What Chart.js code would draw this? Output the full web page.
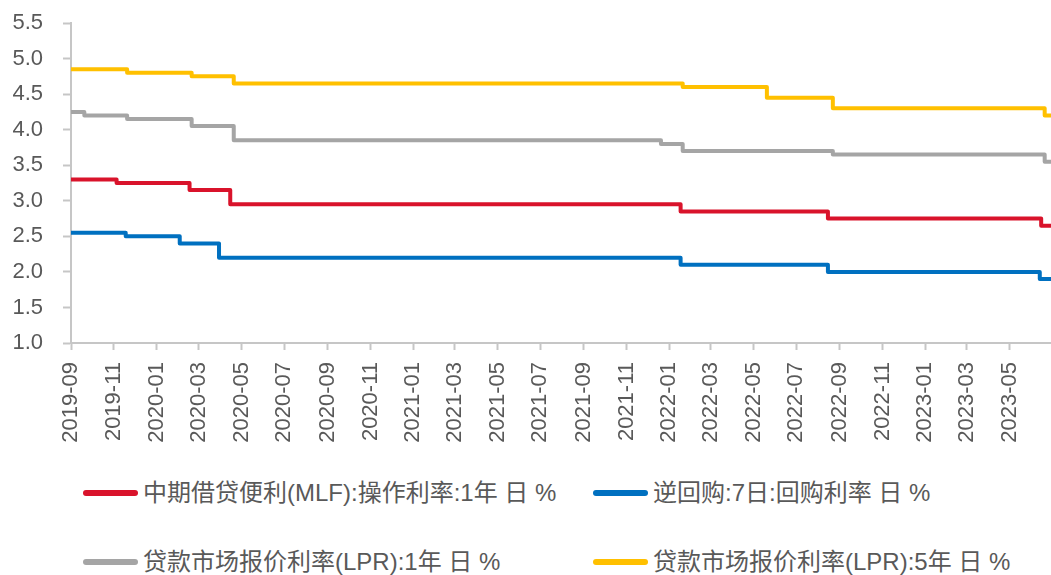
<!DOCTYPE html>
<html>
<head>
<meta charset="utf-8">
<script src="https://cdn.jsdelivr.net/npm/chart.js@4.4.1/dist/chart.umd.min.js"></script>
<style>
  html, body { margin: 0; padding: 0; background: #ffffff; }
  body { width: 1051px; height: 575px; position: relative; overflow: hidden;
         font-family: "Liberation Sans", "Noto Sans CJK SC", sans-serif; }
  #wrap { position: absolute; left: 0; top: 0; width: 1051px; height: 460px; }
  .leg { position: absolute; display: flex; align-items: center; white-space: nowrap;
         font-size: 24px; color: #595959; line-height: 24px; }
  .leg .sw { width: 55px; height: 6px; border-radius: 3px; margin-right: 5px; }
</style>
</head>
<body>
<div id="wrap"><canvas id="c"></canvas></div>
<div id="legend"></div>
<script>
// ---- data ----
const seriesNames = [
  '中期借贷便利(MLF):操作利率:1年 日 %',
  '逆回购:7日:回购利率 日 %',
  '贷款市场报价利率(LPR):1年 日 %',
  '贷款市场报价利率(LPR):5年 日 %'
];
const seriesColors = ['#D9132B', '#0070C0', '#A5A5A5', '#FFC000'];

const mlfDates   = ['2019-09-01','2019-11-05','2020-02-17','2020-04-15','2022-01-17','2022-08-15','2023-06-15','2023-06-29'];
const mlfValues  = [3.30, 3.25, 3.15, 2.95, 2.85, 2.75, 2.65, 2.65];

const repoDates  = ['2019-09-01','2019-11-18','2020-02-03','2020-03-30','2022-01-17','2022-08-15','2023-06-13','2023-06-29'];
const repoValues = [2.55, 2.50, 2.40, 2.20, 2.10, 2.00, 1.90, 1.90];

const lpr1Dates  = ['2019-09-01','2019-09-20','2019-11-20','2020-02-20','2020-04-20','2021-12-20','2022-01-20','2022-08-22','2023-06-20','2023-06-29'];
const lpr1Values = [4.25, 4.20, 4.15, 4.05, 3.85, 3.80, 3.70, 3.65, 3.55, 3.55];

const lpr5Dates  = ['2019-09-01','2019-11-20','2020-02-20','2020-04-20','2022-01-20','2022-05-20','2022-08-22','2023-06-20','2023-06-29'];
const lpr5Values = [4.85, 4.80, 4.75, 4.65, 4.60, 4.45, 4.30, 4.20, 4.20];

const tickLabels = ['2019-09','2019-11','2020-01','2020-03','2020-05','2020-07','2020-09','2020-11',
  '2021-01','2021-03','2021-05','2021-07','2021-09','2021-11','2022-01','2022-03','2022-05','2022-07',
  '2022-09','2022-11','2023-01','2023-03','2023-05'];
const axisStart = '2019-09-01';
const axisEnd = '2023-06-29';
const yTicks = { min: 1.0, max: 5.5, step: 0.5 };

// ---- helpers ----
function toDay(s) {
  const p = s.split('-').map(Number);
  const a = axisStart.split('-').map(Number);
  return (Date.UTC(p[0], p[1] - 1, p[2] || 1) - Date.UTC(a[0], a[1] - 1, a[2])) / 86400000;
}
function pts(dates, values) { return dates.map((d, i) => ({ x: toDay(d), y: values[i] })); }

const allDates = [mlfDates, repoDates, lpr1Dates, lpr5Dates];
const allValues = [mlfValues, repoValues, lpr1Values, lpr5Values];
const tickValues = tickLabels.map(t => toDay(t + '-01'));
const labelByValue = {};
tickValues.forEach((v, i) => { labelByValue[v] = tickLabels[i]; });

const datasets = seriesNames.map((n, i) => ({
  label: n,
  data: pts(allDates[i], allValues[i]),
  borderColor: seriesColors[i],
  backgroundColor: seriesColors[i],
  borderWidth: 4,
  pointRadius: 0,
  pointHoverRadius: 0,
  stepped: 'before',
  fill: false,
  borderJoinStyle: 'round'
}));

const font = { family: '"Liberation Sans", Arial, sans-serif', size: 22 };
const axisColor = '#C6C6C6';

new Chart(document.getElementById('c'), {
  type: 'line',
  data: { datasets },
  options: {
    responsive: true,
    maintainAspectRatio: false,
    animation: false,
    layout: { padding: { top: 23, right: 0, left: 0, bottom: 0 } },
    plugins: { legend: { display: false }, tooltip: { enabled: false } },
    scales: {
      x: {
        type: 'linear',
        min: 0,
        max: toDay(axisEnd),
        afterBuildTicks: s => { s.ticks = tickValues.map(v => ({ value: v })); },
        afterFit: s => { s.height = 117; s.paddingLeft = 0; s.paddingRight = 0; },
        ticks: {
          autoSkip: false, minRotation: 90, maxRotation: 90,
          color: '#595959', font, padding: 12,
          callback: v => labelByValue[v] || ''
        },
        grid: { drawOnChartArea: false, drawTicks: true, tickLength: 7, tickColor: axisColor, tickWidth: 2 },
        border: { display: true, color: axisColor, width: 2 }
      },
      y: {
        type: 'linear',
        min: yTicks.min, max: yTicks.max,
        afterFit: s => { s.width = 71; s.paddingTop = 0; s.paddingBottom = 0; },
        ticks: { stepSize: yTicks.step, color: '#595959', font, padding: 20,
                 callback: v => Number(v).toFixed(1) },
        grid: { drawOnChartArea: false, drawTicks: true, tickLength: 8, tickColor: axisColor, tickWidth: 2 },
        border: { display: true, color: axisColor, width: 2 }
      }
    }
  }
});

// ---- legend ----
const legPos = [[83, 493], [593, 493], [83, 562], [593, 562]];
const legEl = document.getElementById('legend');
seriesNames.forEach((n, i) => {
  const d = document.createElement('div');
  d.className = 'leg';
  d.style.left = legPos[i][0] + 'px';
  d.style.top = (legPos[i][1] - 12) + 'px';
  const sw = document.createElement('span');
  sw.className = 'sw';
  sw.style.background = seriesColors[i];
  const tx = document.createElement('span');
  tx.textContent = n;
  d.appendChild(sw); d.appendChild(tx);
  legEl.appendChild(d);
});
</script>
</body>
</html>
